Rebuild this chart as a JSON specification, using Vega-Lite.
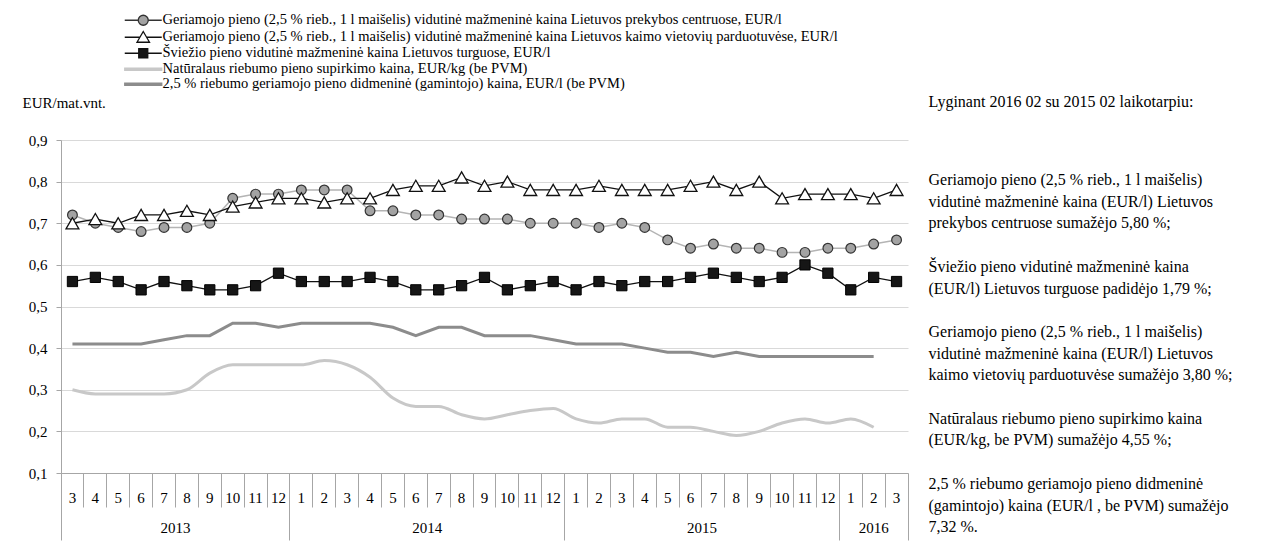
{
  "$schema": "https://vega.github.io/schema/vega-lite/v6.json",
  "padding": {"left": 22, "top": 13, "right": 0, "bottom": 0},
  "autosize": {"type": "pad"},
  "background": "white",
  "spacing": 19,
  "datasets": {
    "milk": [
      {"m": "2013-03", "pc": 0.72, "kv": 0.70, "tr": 0.56, "sp": 0.30, "dm": 0.41},
      {"m": "2013-04", "pc": 0.70, "kv": 0.71, "tr": 0.57, "sp": 0.29, "dm": 0.41},
      {"m": "2013-05", "pc": 0.69, "kv": 0.70, "tr": 0.56, "sp": 0.29, "dm": 0.41},
      {"m": "2013-06", "pc": 0.68, "kv": 0.72, "tr": 0.54, "sp": 0.29, "dm": 0.41},
      {"m": "2013-07", "pc": 0.69, "kv": 0.72, "tr": 0.56, "sp": 0.29, "dm": 0.42},
      {"m": "2013-08", "pc": 0.69, "kv": 0.73, "tr": 0.55, "sp": 0.30, "dm": 0.43},
      {"m": "2013-09", "pc": 0.70, "kv": 0.72, "tr": 0.54, "sp": 0.34, "dm": 0.43},
      {"m": "2013-10", "pc": 0.76, "kv": 0.74, "tr": 0.54, "sp": 0.36, "dm": 0.46},
      {"m": "2013-11", "pc": 0.77, "kv": 0.75, "tr": 0.55, "sp": 0.36, "dm": 0.46},
      {"m": "2013-12", "pc": 0.77, "kv": 0.76, "tr": 0.58, "sp": 0.36, "dm": 0.45},
      {"m": "2014-01", "pc": 0.78, "kv": 0.76, "tr": 0.56, "sp": 0.36, "dm": 0.46},
      {"m": "2014-02", "pc": 0.78, "kv": 0.75, "tr": 0.56, "sp": 0.37, "dm": 0.46},
      {"m": "2014-03", "pc": 0.78, "kv": 0.76, "tr": 0.56, "sp": 0.36, "dm": 0.46},
      {"m": "2014-04", "pc": 0.73, "kv": 0.76, "tr": 0.57, "sp": 0.33, "dm": 0.46},
      {"m": "2014-05", "pc": 0.73, "kv": 0.78, "tr": 0.56, "sp": 0.28, "dm": 0.45},
      {"m": "2014-06", "pc": 0.72, "kv": 0.79, "tr": 0.54, "sp": 0.26, "dm": 0.43},
      {"m": "2014-07", "pc": 0.72, "kv": 0.79, "tr": 0.54, "sp": 0.26, "dm": 0.45},
      {"m": "2014-08", "pc": 0.71, "kv": 0.81, "tr": 0.55, "sp": 0.24, "dm": 0.45},
      {"m": "2014-09", "pc": 0.71, "kv": 0.79, "tr": 0.57, "sp": 0.23, "dm": 0.43},
      {"m": "2014-10", "pc": 0.71, "kv": 0.80, "tr": 0.54, "sp": 0.24, "dm": 0.43},
      {"m": "2014-11", "pc": 0.70, "kv": 0.78, "tr": 0.55, "sp": 0.25, "dm": 0.43},
      {"m": "2014-12", "pc": 0.70, "kv": 0.78, "tr": 0.56, "sp": 0.255, "dm": 0.42},
      {"m": "2015-01", "pc": 0.70, "kv": 0.78, "tr": 0.54, "sp": 0.23, "dm": 0.41},
      {"m": "2015-02", "pc": 0.69, "kv": 0.79, "tr": 0.56, "sp": 0.22, "dm": 0.41},
      {"m": "2015-03", "pc": 0.70, "kv": 0.78, "tr": 0.55, "sp": 0.23, "dm": 0.41},
      {"m": "2015-04", "pc": 0.69, "kv": 0.78, "tr": 0.56, "sp": 0.23, "dm": 0.40},
      {"m": "2015-05", "pc": 0.66, "kv": 0.78, "tr": 0.56, "sp": 0.21, "dm": 0.39},
      {"m": "2015-06", "pc": 0.64, "kv": 0.79, "tr": 0.57, "sp": 0.21, "dm": 0.39},
      {"m": "2015-07", "pc": 0.65, "kv": 0.80, "tr": 0.58, "sp": 0.20, "dm": 0.38},
      {"m": "2015-08", "pc": 0.64, "kv": 0.78, "tr": 0.57, "sp": 0.19, "dm": 0.39},
      {"m": "2015-09", "pc": 0.64, "kv": 0.80, "tr": 0.56, "sp": 0.20, "dm": 0.38},
      {"m": "2015-10", "pc": 0.63, "kv": 0.76, "tr": 0.57, "sp": 0.22, "dm": 0.38},
      {"m": "2015-11", "pc": 0.63, "kv": 0.77, "tr": 0.60, "sp": 0.23, "dm": 0.38},
      {"m": "2015-12", "pc": 0.64, "kv": 0.77, "tr": 0.58, "sp": 0.22, "dm": 0.38},
      {"m": "2016-01", "pc": 0.64, "kv": 0.77, "tr": 0.54, "sp": 0.23, "dm": 0.38},
      {"m": "2016-02", "pc": 0.65, "kv": 0.76, "tr": 0.57, "sp": 0.21, "dm": 0.38},
      {"m": "2016-03", "pc": 0.66, "kv": 0.78, "tr": 0.56, "sp": null, "dm": null}
    ],
    "series": [
      {"series": "Geriamojo pieno (2,5 % rieb., 1 l maišelis) vidutinė mažmeninė kaina Lietuvos prekybos centruose, EUR/l"},
      {"series": "Geriamojo pieno (2,5 % rieb., 1 l maišelis) vidutinė mažmeninė kaina Lietuvos kaimo vietovių parduotuvėse, EUR/l"},
      {"series": "Šviežio pieno vidutinė mažmeninė kaina Lietuvos turguose, EUR/l"},
      {"series": "Natūralaus riebumo pieno supirkimo kaina, EUR/kg (be PVM)"},
      {"series": "2,5 % riebumo geriamojo pieno didmeninė (gamintojo) kaina, EUR/l (be PVM)"}
    ],
    "notes": [
      {"p": 1, "t": "Lyginant 2016 02 su 2015 02  laikotarpiu:"},
      {"p": 2, "t": "Geriamojo pieno (2,5 % rieb., 1 l maišelis)\nvidutinė mažmeninė kaina (EUR/l) Lietuvos\nprekybos centruose sumažėjo 5,80 %;\n\u2800\nŠviežio pieno vidutinė mažmeninė kaina\n(EUR/l) Lietuvos turguose  padidėjo 1,79 %;\n\u2800\nGeriamojo pieno (2,5 % rieb., 1 l maišelis)\nvidutinė mažmeninė kaina (EUR/l) Lietuvos\nkaimo vietovių parduotuvėse sumažėjo 3,80 %;\n\u2800\nNatūralaus riebumo pieno supirkimo kaina\n(EUR/kg, be PVM) sumažėjo 4,55 %;\n\u2800\n2,5 % riebumo geriamojo pieno didmeninė\n(gamintojo) kaina (EUR/l , be PVM) sumažėjo\n7,32 %."}
    ]
  },
  "hconcat": [
    {
      "width": 847,
      "height": 333,
      "data": {"name": "milk"},
      "resolve": {"axis": {"x": "independent"}},
      "layer": [
        {
          "mark": {"type": "line", "color": "#c8c8c8", "strokeWidth": 3, "interpolate": "monotone"},
          "encoding": {
            "x": {"field": "m", "type": "ordinal", "scale": {"type": "band", "paddingInner": 0, "paddingOuter": 0},
              "axis": {"orient": "bottom", "title": null, "bandPosition": 0, "tickSize": 34, "labelExpr": "'' + toNumber(slice(datum.value, 5))", "labelPadding": -10, "labelBaseline": "middle", "labelAngle": 0, "labelOverlap": false, "grid": false}},
            "y": {"field": "sp", "type": "quantitative", "title": "EUR/mat.vnt.", "scale": {"domain": [0.1, 0.9], "nice": false, "zero": false},
              "axis": {"values": [0.1, 0.2, 0.3, 0.4, 0.5, 0.6, 0.7, 0.8, 0.9], "labelExpr": "replace(format(datum.value, '.1f'), '.', ',')", "grid": true, "tickSize": 5, "labelPadding": 9, "titleAngle": 0, "titleAlign": "left", "titleBaseline": "middle", "titleX": -39, "titleY": -38, "titleFontSize": 15}}
          }
        },
        {
          "mark": {"type": "line", "color": "#8c8c8c", "strokeWidth": 3},
          "encoding": {
            "x": {"field": "m", "type": "ordinal",
              "axis": {"orient": "bottom", "title": null, "bandPosition": 0, "values": ["2013-03", "2014-01", "2015-01", "2016-01"], "tickSize": 67, "domain": false, "labels": false, "grid": false}},
            "y": {"field": "dm", "type": "quantitative", "title": "EUR/mat.vnt."}
          }
        },
        {
          "mark": {"type": "line", "color": "#b4b4b4", "strokeWidth": 1.5},
          "encoding": {
            "x": {"field": "m", "type": "ordinal",
              "axis": {"orient": "bottom", "title": null, "values": ["2013-07", "2014-06", "2015-06"], "ticks": false, "domain": false, "labelExpr": "slice(datum.value, 0, 4)", "labelOffset": 11.45, "labelPadding": 54, "labelBaseline": "middle", "labelAngle": 0, "labelOverlap": false, "grid": false}},
            "y": {"field": "pc", "type": "quantitative", "title": "EUR/mat.vnt."}
          }
        },
        {
          "mark": {"type": "point", "shape": "circle", "size": 95, "filled": true, "fill": "#a3a3a3", "stroke": "#333333", "strokeWidth": 1.2, "opacity": 1},
          "encoding": {
            "x": {"field": "m", "type": "ordinal",
              "axis": {"orient": "bottom", "title": null, "bandPosition": 1, "values": ["2016-03"], "tickSize": 67, "domain": false, "labels": false, "grid": false}},
            "y": {"field": "pc", "type": "quantitative", "title": "EUR/mat.vnt."}
          }
        },
        {
          "mark": {"type": "line", "color": "#111111", "strokeWidth": 1.3},
          "encoding": {
            "x": {"field": "m", "type": "ordinal",
              "axis": {"orient": "bottom", "title": null, "values": ["2016-02"], "ticks": false, "domain": false, "labelExpr": "slice(datum.value, 0, 4)", "labelPadding": 54, "labelBaseline": "middle", "labelAngle": 0, "labelOverlap": false, "grid": false}},
            "y": {"field": "kv", "type": "quantitative", "title": "EUR/mat.vnt."}
          }
        },
        {
          "mark": {"type": "point", "shape": "triangle-up", "size": 165, "filled": true, "fill": "white", "stroke": "#111111", "strokeWidth": 1.3, "opacity": 1},
          "encoding": {
            "x": {"field": "m", "type": "ordinal", "axis": null},
            "y": {"field": "kv", "type": "quantitative", "title": "EUR/mat.vnt."}
          }
        },
        {
          "mark": {"type": "line", "color": "#111111", "strokeWidth": 1.3},
          "encoding": {
            "x": {"field": "m", "type": "ordinal", "axis": null},
            "y": {"field": "tr", "type": "quantitative", "title": "EUR/mat.vnt."}
          }
        },
        {
          "mark": {"type": "point", "shape": "square", "size": 105, "filled": true, "fill": "#161616", "stroke": "#000000", "strokeWidth": 1, "opacity": 1},
          "encoding": {
            "x": {"field": "m", "type": "ordinal", "axis": null},
            "y": {"field": "tr", "type": "quantitative", "title": "EUR/mat.vnt."}
          }
        },
        {
          "data": {"name": "series"},
          "mark": {"type": "point", "filled": true, "opacity": 0},
          "encoding": {
            "fill": {"field": "series", "type": "nominal", "title": null,
              "scale": {"domain": ["Geriamojo pieno (2,5 % rieb., 1 l maišelis) vidutinė mažmeninė kaina Lietuvos prekybos centruose, EUR/l", "Geriamojo pieno (2,5 % rieb., 1 l maišelis) vidutinė mažmeninė kaina Lietuvos kaimo vietovių parduotuvėse, EUR/l", "Šviežio pieno vidutinė mažmeninė kaina Lietuvos turguose, EUR/l", "Natūralaus riebumo pieno supirkimo kaina, EUR/kg (be PVM)", "2,5 % riebumo geriamojo pieno didmeninė (gamintojo) kaina, EUR/l (be PVM)"],
                "range": ["#a3a3a3", "#ffffff", "#161616", "#c8c8c8", "#8c8c8c"]}},
            "stroke": {"field": "series", "type": "nominal", "title": null,
              "scale": {"domain": ["Geriamojo pieno (2,5 % rieb., 1 l maišelis) vidutinė mažmeninė kaina Lietuvos prekybos centruose, EUR/l", "Geriamojo pieno (2,5 % rieb., 1 l maišelis) vidutinė mažmeninė kaina Lietuvos kaimo vietovių parduotuvėse, EUR/l", "Šviežio pieno vidutinė mažmeninė kaina Lietuvos turguose, EUR/l", "Natūralaus riebumo pieno supirkimo kaina, EUR/kg (be PVM)", "2,5 % riebumo geriamojo pieno didmeninė (gamintojo) kaina, EUR/l (be PVM)"],
                "range": ["#333333", "#111111", "#111111", "#c8c8c8", "#8c8c8c"]}},
            "shape": {"field": "series", "type": "nominal", "title": null,
              "scale": {"domain": ["Geriamojo pieno (2,5 % rieb., 1 l maišelis) vidutinė mažmeninė kaina Lietuvos prekybos centruose, EUR/l", "Geriamojo pieno (2,5 % rieb., 1 l maišelis) vidutinė mažmeninė kaina Lietuvos kaimo vietovių parduotuvėse, EUR/l", "Šviežio pieno vidutinė mažmeninė kaina Lietuvos turguose, EUR/l", "Natūralaus riebumo pieno supirkimo kaina, EUR/kg (be PVM)", "2,5 % riebumo geriamojo pieno didmeninė (gamintojo) kaina, EUR/l (be PVM)"],
                "range": [
                  "M-3.7,0H-1M1,0H3.7M1,0A1,1 0 1,1 -1,0A1,1 0 1,1 1,0Z",
                  "M-3.7,0H-0.65M0.65,0H3.7M0,-1.15L1.25,1L-1.25,1Z",
                  "M-3.7,0H-0.9M0.9,0H3.7M-0.9,-0.9H0.9V0.9H-0.9Z",
                  "M-3.7,-0.2H3.7V0.2H-3.7Z",
                  "M-3.7,-0.2H3.7V0.2H-3.7Z"
                ]}}
          }
        }
      ]
    },
    {
      "width": 1,
      "height": 78,
      "data": {"name": "notes"},
      "mark": {"type": "text", "align": "left", "baseline": "middle", "lineBreak": "\n", "font": "Liberation Serif", "fontSize": 16, "lineHeight": 21.7, "dy": -38, "color": "#000000"},
      "encoding": {
        "y": {"field": "p", "type": "ordinal", "scale": {"type": "point", "padding": 0}, "axis": null},
        "text": {"field": "t"}
      }
    }
  ],
  "config": {
    "font": "Liberation Serif",
    "view": {"stroke": null},
    "axis": {"labelFont": "Liberation Serif", "labelFontSize": 15, "labelColor": "#000000", "titleFont": "Liberation Serif", "titleFontWeight": "normal", "titleColor": "#000000", "domainColor": "#a6a6a6", "tickColor": "#a6a6a6", "gridColor": "#d9d9d9"},
    "legend": {"orient": "none", "legendX": 75, "legendY": -127, "padding": 0, "rowPadding": 0, "labelOffset": 12, "labelFont": "Liberation Serif", "labelFontSize": 14.5, "labelColor": "#000000", "labelLimit": 2000, "symbolSize": 100, "symbolStrokeWidth": 1.3, "symbolOpacity": 1}
  }
}
